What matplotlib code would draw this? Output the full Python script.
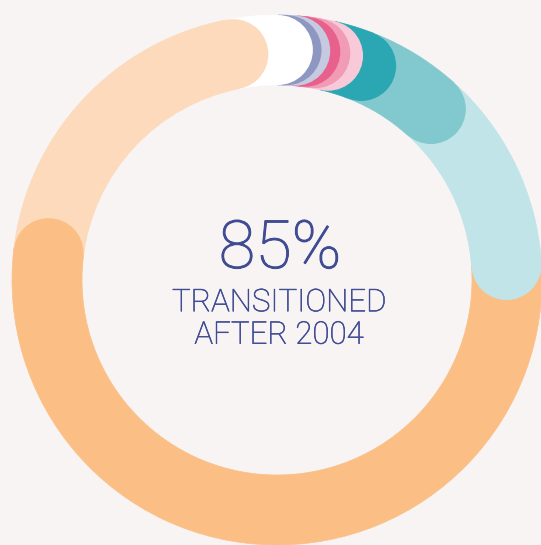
import numpy as np
import matplotlib.pyplot as plt
import matplotlib.patheffects as pe
from matplotlib.patches import Wedge, Circle

# ring segments, clockwise from the left (share of 100%)
segments = ["light orange", "white", "slate", "lavender", "rose", "pink",
            "blush", "teal", "aqua", "ice", "orange"]
shares = [20.1, 3.1, 0.6, 0.6, 0.7, 0.7, 0.9, 2.4, 5.7, 12.3, 52.9]
colors = ["#fcdabb", "#ffffff", "#8e97c1", "#c6cae0", "#e8608c", "#f29bb6",
          "#f8c9d8", "#2aa7b3", "#82c9cf", "#c0e4e8", "#fbbf85"]

headline = "85%"
caption = "TRANSITIONED\nAFTER 2004"

bg = "#f8f4f3"
text_color = "#3f4b93"

fig = plt.figure(figsize=(5.41, 5.45), dpi=100, facecolor=bg)
ax = fig.add_axes([0, 0, 1, 1])
ax.set_facecolor(bg)
ax.set_xlim(0, 541)
ax.set_ylim(0, 545)
ax.set_aspect("equal")
ax.axis("off")

cx, cy = 277, 265
r_out, width = 265, 70
r_mid = r_out - width / 2
start = 173.3

ends = []
theta = start
for share, col in zip(shares, colors):
    t_end = theta - share * 3.6
    ax.add_patch(Wedge((cx, cy), r_out, t_end, theta, width=width,
                       facecolor=col, edgecolor=col, lw=0.5))
    ends.append(t_end)
    theta = t_end

# rounded end caps, drawn so each cap sits over the next segment
for t_end, col in reversed(list(zip(ends, colors))):
    a = np.radians(t_end)
    ax.add_patch(Circle((cx + r_mid * np.cos(a), cy + r_mid * np.sin(a)),
                        width / 2, facecolor=col, edgecolor="none"))

# light weight, thickened a touch
thick = [pe.withStroke(linewidth=0.7, foreground=text_color)]
ax.text(280, 295, headline, ha="center", va="center", color=text_color,
        fontsize=48, family="Roboto", fontweight="light", path_effects=thick)
ax.text(279, 226, caption, ha="center", va="center", color=text_color,
        fontsize=22.5, family="Roboto", fontweight="light", linespacing=1.15,
        path_effects=[pe.withStroke(linewidth=0.4, foreground=text_color)])

fig.savefig("out.png", dpi=100, facecolor=bg)
